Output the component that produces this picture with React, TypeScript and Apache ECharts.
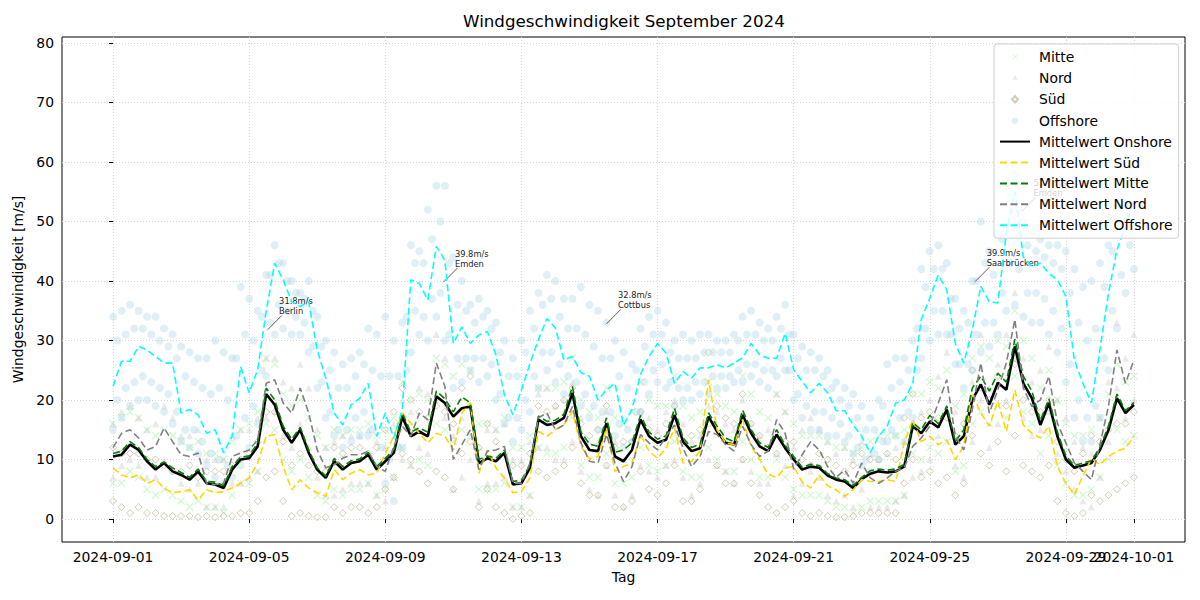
import React, { useEffect, useRef } from "react";
import * as echarts from "echarts";

// Sampling step of all series below, in hours after 2024-09-01 00:00
const STEP_HOURS = 6;

const xTickHours = [0, 96, 192, 288, 384, 480, 576, 672, 720];
const xTickLabels = [
  "2024-09-01", "2024-09-05", "2024-09-09", "2024-09-13", "2024-09-17",
  "2024-09-21", "2024-09-25", "2024-09-29", "2024-10-01",
];
const yTicks = [0, 10, 20, 30, 40, 50, 60, 70, 80];

// Regional means [m/s], one value every 6 h
const meanOnshore = [
  10.5, 10.8, 12.5, 11.6, 9.7, 8.3, 9.4, 8.0, 7.4, 6.6,
  8.0, 6.0, 5.8, 5.2, 8.3, 10.0, 10.2, 12.2, 21.0, 19.2,
  15.0, 12.8, 15.0, 11.1, 8.3, 6.9, 9.7, 8.3, 9.4, 9.7,
  10.8, 8.3, 9.7, 11.1, 17.2, 13.9, 14.7, 13.9, 20.6, 19.5,
  17.2, 18.6, 18.9, 9.4, 10.2, 9.7, 11.1, 5.8, 6.0, 8.6,
  16.7, 15.8, 16.1, 17.0, 21.2, 13.9, 11.6, 11.4, 16.1, 10.5,
  9.7, 11.6, 16.7, 13.9, 12.8, 13.3, 17.5, 13.0, 11.4, 11.9,
  17.2, 14.7, 12.8, 12.5, 17.5, 14.4, 12.2, 11.4, 14.2, 11.9,
  10.0, 8.3, 8.8, 8.6, 7.3, 6.6, 6.3, 5.2, 6.7, 7.6,
  8.0, 7.8, 8.0, 8.8, 15.6, 14.4, 16.4, 15.4, 18.4, 12.5,
  13.9, 20.0, 22.6, 19.2, 22.9, 21.7, 29.0, 22.8, 20.3, 15.8,
  19.5, 13.9, 10.0, 8.6, 9.0, 9.4, 11.6, 14.9, 20.3, 17.8, 19.2,
];
const meanSued = [
  8.6, 7.4, 6.9, 7.4, 6.0, 6.6, 5.2, 4.4, 4.6, 4.9,
  3.2, 4.9, 4.4, 4.6, 5.2, 6.0, 6.9, 9.4, 13.9, 14.2,
  8.8, 4.9, 6.6, 5.2, 4.4, 3.8, 8.3, 6.6, 7.7, 8.3,
  7.4, 7.7, 11.0, 13.9, 17.8, 16.1, 14.4, 12.8, 14.4, 13.9,
  11.6, 17.8, 19.5, 7.7, 11.6, 8.6, 6.9, 4.4, 4.6, 6.9,
  14.7, 13.9, 15.0, 15.8, 18.1, 12.2, 10.1, 10.5, 15.3, 8.0,
  8.8, 9.4, 14.2, 11.4, 10.2, 11.9, 15.3, 9.4, 9.7, 11.4,
  23.4, 15.0, 12.8, 12.5, 16.7, 12.2, 10.0, 7.5, 7.0, 8.6,
  8.8, 6.2, 5.2, 7.4, 5.6, 4.9, 3.8, 4.9, 6.6, 6.3,
  6.3, 6.6, 6.3, 12.8, 16.7, 13.0, 13.9, 12.5, 13.3, 10.0,
  12.2, 21.2, 17.8, 15.6, 19.8, 14.7, 21.7, 15.8, 14.4, 13.6,
  15.6, 8.8, 6.0, 4.1, 7.2, 10.2, 9.1, 10.5, 11.4, 11.9, 13.9,
];
const meanMitte = [
  11.0, 11.4, 13.0, 12.0, 10.0, 8.8, 9.6, 8.6, 7.8, 7.0,
  8.4, 6.3, 6.2, 5.6, 8.8, 10.4, 10.6, 12.8, 22.0, 20.0,
  15.6, 13.4, 15.4, 11.6, 8.6, 7.2, 10.2, 8.8, 9.8, 10.1,
  11.2, 8.8, 10.2, 11.6, 17.8, 14.6, 15.3, 14.6, 21.5, 20.2,
  18.0, 20.5, 19.5, 10.0, 10.6, 10.2, 11.6, 6.3, 6.5, 9.0,
  17.3, 16.4, 16.6, 17.6, 22.3, 14.6, 12.6, 12.2, 17.0, 11.2,
  11.6, 12.8, 17.4, 14.6, 13.4, 14.0, 18.6, 13.6, 12.0, 12.6,
  17.8, 15.6, 13.6, 13.0, 18.3, 15.0, 12.8, 12.0, 15.0, 12.4,
  10.5, 8.7, 9.2, 9.0, 7.6, 6.9, 6.6, 5.6, 7.0, 8.1,
  8.4, 8.2, 8.4, 9.2, 16.2, 15.0, 17.4, 16.0, 19.0, 13.0,
  15.0, 22.0, 24.0, 21.5, 24.5, 23.0, 30.2, 24.0, 21.5, 16.5,
  20.2, 14.6, 10.6, 9.0, 9.4, 9.8, 12.0, 15.6, 21.0, 18.2, 19.6,
];
const meanNord = [
  12.0, 14.4, 15.0, 13.6, 11.6, 12.2, 15.3, 13.0, 10.8, 10.5,
  11.1, 6.0, 5.8, 6.0, 10.5, 11.1, 11.6, 13.3, 22.8, 23.4,
  19.5, 17.8, 22.0, 17.8, 11.6, 8.6, 9.1, 10.2, 10.8, 10.8,
  11.4, 8.8, 8.0, 12.2, 15.6, 13.9, 17.8, 16.7, 26.2, 22.3,
  10.0, 12.5, 15.0, 8.3, 11.4, 11.6, 12.2, 6.0, 6.0, 9.4,
  17.0, 17.8, 15.0, 15.8, 18.9, 12.8, 9.7, 9.4, 14.2, 9.4,
  6.3, 8.8, 14.2, 12.8, 11.6, 13.9, 15.8, 11.9, 8.8, 10.5,
  14.7, 14.2, 12.5, 11.4, 15.6, 12.5, 10.5, 11.4, 16.7, 14.4,
  8.4, 10.8, 13.0, 11.6, 8.8, 7.0, 8.2, 6.0, 9.4, 6.9,
  6.0, 6.9, 8.0, 8.6, 12.2, 13.6, 15.6, 19.5, 23.4, 13.9,
  11.6, 18.4, 26.2, 17.8, 21.7, 26.2, 33.5, 22.0, 18.9, 20.0,
  24.0, 16.1, 12.8, 9.4, 8.0, 6.6, 12.5, 18.9, 28.4, 22.8, 26.7,
];
const meanOffshore = [
  22.3, 26.5, 26.5, 29.0, 28.4, 27.3, 26.2, 26.2, 17.8, 18.4,
  17.5, 14.4, 15.0, 11.1, 13.9, 25.6, 21.2, 25.1, 34.9, 43.0,
  40.2, 36.5, 35.7, 36.5, 28.4, 23.7, 17.8, 15.8, 19.2, 20.3,
  22.8, 13.9, 17.8, 13.6, 18.4, 40.2, 39.6, 36.8, 45.8, 43.5,
  29.5, 32.3, 29.5, 30.9, 31.5, 27.6, 20.9, 17.5, 21.7, 26.1,
  30.1, 33.7, 32.1, 26.7, 27.3, 24.6, 24.0, 20.0, 21.7, 22.8,
  15.8, 18.4, 24.3, 27.3, 29.5, 27.9, 22.8, 24.8, 23.7, 25.4,
  25.4, 25.9, 25.4, 26.2, 27.1, 29.5, 27.6, 27.0, 27.0, 31.2,
  25.1, 23.1, 21.2, 22.8, 21.2, 18.2, 18.2, 15.8, 13.9, 11.1,
  13.9, 15.6, 19.5, 20.0, 22.8, 33.5, 37.1, 41.0, 38.5, 29.5,
  26.2, 31.8, 39.1, 36.5, 36.3, 48.0, 55.0, 44.0, 42.4, 43.0,
  41.3, 40.2, 37.4, 26.7, 22.8, 19.5, 28.4, 37.9, 45.2, 49.1, 53.6,
];

// Station readings every 6 h: upper and lower edge of each region's spread
const offshoreHigh = [
  34, 35, 36, 35, 34, 34, 32, 31, 29, 28, 27, 27, 30, 28, 27, 39, 37, 35, 41, 46,
  43, 40, 38, 40, 34, 30, 28, 26, 27, 28, 32, 31, 34, 30, 33, 46, 45, 52, 56, 56,
  44, 40, 36, 37, 35, 33, 30, 27, 30, 35, 38, 41, 40, 37, 37, 39, 36, 35, 33, 30,
  28, 26, 32, 34, 35, 33, 30, 31, 30, 31, 31, 30, 30, 31, 34, 35, 33, 32, 34, 36,
  31, 29, 28, 27, 25, 23, 22, 21, 19, 17, 20, 26, 27, 27, 30, 42, 45, 46, 43, 37,
  35, 40, 50, 45, 48, 56, 58, 50, 48, 47, 46, 46, 45, 42, 39, 40, 43, 46, 50, 55, 56,
];
const offshoreLow = [
  15, 17, 19, 20, 20, 19, 18, 16, 13, 12, 11, 9, 7, 6, 7, 9, 12, 16, 24, 31,
  32, 31, 31, 28, 22, 17, 14, 12, 13, 14, 14, 9, 6, 3, 12, 28, 31, 30, 34, 30,
  22, 23, 25, 23, 24, 20, 16, 13, 15, 18, 22, 25, 23, 21, 20, 19, 17, 15, 15, 14,
  12, 13, 18, 21, 23, 22, 19, 20, 20, 21, 21, 22, 22, 23, 23, 24, 23, 22, 24, 25,
  20, 17, 15, 15, 14, 14, 13, 11, 9, 8, 10, 13, 14, 13, 17, 27, 30, 31, 31, 26,
  22, 25, 28, 29, 31, 35, 36, 34, 33, 33, 31, 28, 23, 17, 13, 13, 17, 25, 32, 38, 42,
];
// Offshore readings inside the spread, taken 3 h after each 6 h step
const offshoreInnerHigh = [
  30, 31, 32, 32, 31, 30, 29, 27, 24, 23, 22, 21, 22, 20, 27, 31, 30, 34, 41, 43,
  40, 38, 37, 35, 29, 25, 22, 22, 24, 26, 25, 24, 24, 24, 34, 43, 43, 47, 50, 43,
  36, 35, 33, 34, 32, 28, 24, 24, 28, 32, 36, 37, 34, 32, 32, 31, 29, 27, 27, 24,
  22, 25, 29, 31, 31, 28, 27, 27, 27, 28, 28, 28, 28, 30, 31, 31, 30, 30, 32, 31,
  27, 25, 25, 24, 22, 20, 19, 17, 15, 15, 19, 22, 23, 25, 32, 39, 42, 42, 37, 32,
  33, 40, 43, 41, 47, 54, 52, 46, 45, 44, 43, 42, 38, 33, 30, 32, 39, 45, 50, 53,
];
const offshoreInnerLow = [
  20, 22, 23, 24, 23, 22, 21, 18, 15, 15, 13, 11, 10, 9, 14, 17, 19, 25, 33, 36,
  35, 34, 33, 29, 23, 18, 15, 15, 17, 18, 15, 12, 10, 12, 25, 35, 34, 37, 38, 31,
  27, 27, 27, 27, 26, 21, 17, 17, 20, 24, 28, 28, 26, 24, 23, 21, 19, 18, 18, 16,
  15, 18, 23, 25, 26, 23, 22, 22, 23, 23, 24, 24, 24, 25, 26, 26, 25, 25, 27, 25,
  21, 19, 18, 18, 17, 16, 14, 12, 10, 11, 13, 15, 17, 18, 25, 32, 35, 35, 31, 26,
  26, 31, 33, 33, 38, 43, 42, 38, 38, 37, 35, 32, 26, 20, 17, 19, 27, 35, 41, 46,
];
const mitteHigh = [
  16, 17, 18, 17, 15, 14, 15, 14, 13, 12, 13, 11, 11, 10, 13, 15, 16, 18, 27, 26,
  21, 19, 20, 17, 14, 12, 15, 14, 15, 15, 16, 14, 15, 17, 23, 20, 21, 20, 27, 26,
  24, 26, 25, 16, 16, 15, 17, 12, 12, 14, 22, 22, 22, 23, 27, 20, 18, 17, 22, 17,
  16, 18, 23, 20, 19, 19, 24, 19, 17, 18, 23, 21, 19, 18, 24, 21, 18, 17, 21, 18,
  16, 14, 14, 14, 13, 12, 12, 11, 12, 13, 14, 14, 14, 15, 21, 21, 23, 22, 25, 19,
  21, 27, 29, 27, 30, 29, 35, 30, 27, 22, 25, 20, 16, 14, 14, 15, 17, 21, 26, 23, 24,
];
const mitteLow = [
  6, 6, 8, 7, 5, 4, 5, 4, 3, 2, 3, 2, 2, 1, 4, 6, 6, 8, 16, 15,
  10, 8, 10, 7, 4, 3, 5, 4, 5, 5, 6, 4, 5, 7, 12, 9, 10, 9, 16, 15,
  13, 15, 14, 5, 5, 5, 6, 2, 2, 4, 12, 11, 11, 12, 17, 9, 7, 7, 11, 6,
  6, 7, 12, 9, 8, 9, 13, 8, 7, 7, 12, 10, 8, 8, 13, 10, 7, 7, 10, 7,
  5, 4, 4, 4, 3, 2, 2, 1, 2, 3, 3, 3, 3, 4, 11, 10, 12, 11, 13, 8,
  9, 16, 18, 16, 19, 17, 24, 18, 16, 11, 14, 9, 6, 4, 4, 5, 7, 10, 15, 13, 14,
];
const nordHigh = [
  16, 18, 19, 17, 15, 16, 19, 17, 14, 14, 15, 10, 10, 10, 14, 15, 15, 17, 27, 27,
  23, 22, 26, 22, 15, 12, 13, 14, 14, 14, 15, 13, 12, 16, 20, 18, 22, 21, 31, 27,
  14, 17, 19, 12, 15, 15, 16, 10, 10, 13, 21, 22, 19, 20, 23, 17, 13, 13, 18, 13,
  10, 13, 18, 17, 15, 18, 20, 16, 13, 14, 19, 18, 16, 15, 20, 16, 14, 15, 21, 18,
  12, 15, 17, 15, 13, 11, 12, 10, 13, 11, 10, 11, 12, 13, 16, 18, 20, 24, 28, 18,
  16, 23, 31, 22, 26, 31, 38, 27, 23, 25, 29, 20, 17, 13, 12, 11, 17, 23, 33, 27, 31,
];
const nordLow = [
  7, 9, 10, 9, 7, 7, 10, 8, 6, 5, 6, 2, 2, 2, 6, 6, 7, 8, 17, 18,
  14, 12, 16, 12, 7, 4, 4, 5, 6, 6, 6, 4, 3, 7, 10, 9, 12, 11, 20, 17,
  5, 7, 10, 3, 6, 6, 7, 2, 2, 4, 12, 12, 10, 10, 13, 8, 5, 4, 9, 4,
  2, 4, 9, 8, 7, 9, 10, 7, 4, 6, 10, 9, 8, 6, 10, 8, 6, 6, 11, 9,
  4, 6, 8, 7, 4, 3, 4, 2, 5, 2, 2, 2, 3, 4, 7, 8, 10, 14, 18, 9,
  7, 13, 20, 12, 16, 20, 27, 17, 14, 15, 18, 11, 8, 5, 3, 2, 7, 13, 22, 17, 20,
];
const suedHigh = [
  12, 11, 11, 11, 10, 10, 9, 8, 8, 9, 7, 8, 8, 8, 9, 10, 11, 13, 18, 18,
  13, 9, 11, 9, 8, 8, 12, 11, 12, 12, 11, 12, 15, 18, 22, 20, 18, 17, 19, 18,
  16, 22, 24, 12, 16, 13, 11, 9, 9, 11, 19, 18, 19, 20, 22, 16, 14, 15, 19, 12,
  13, 13, 18, 15, 14, 16, 19, 13, 14, 15, 28, 19, 17, 16, 21, 16, 14, 12, 11, 13,
  13, 10, 9, 11, 10, 9, 8, 9, 11, 10, 10, 11, 10, 17, 21, 17, 18, 17, 17, 14,
  16, 25, 22, 20, 24, 19, 26, 20, 18, 18, 20, 13, 10, 8, 11, 14, 13, 15, 16, 16, 18,
];
const suedLow = [
  3, 2, 1, 2, 1, 1, 0.5, 0.5, 0.5, 0.5, 0.3, 0.5, 0.3, 0.5, 0.5, 1, 1, 3, 7, 8,
  3, 0.5, 1, 0.5, 0.3, 0.3, 2, 1, 2, 2, 1, 2, 5, 7, 11, 10, 8, 6, 8, 7,
  5, 11, 13, 2, 5, 2, 1, 0, 0.5, 1, 8, 7, 8, 9, 12, 6, 4, 4, 9, 2,
  2, 3, 8, 5, 4, 6, 9, 3, 3, 5, 16, 9, 6, 6, 10, 6, 4, 2, 1, 2,
  3, 1, 0.5, 1, 0.5, 0.3, 0.3, 0.5, 1, 1, 1, 1, 1, 6, 10, 7, 8, 6, 7, 4,
  6, 14, 11, 9, 13, 8, 14, 9, 8, 7, 9, 3, 1, 0.5, 1, 4, 3, 4, 5, 6, 7,
];

// Station maxima called out in the plot
const stationNames = ["Berlin", "Emden", "Cottbus", "Saarbrücken", "Emden"];
const stationSpeeds = [31.8, 39.8, 32.8, 39.9, 51.7];
const stationHours = [109, 233, 348, 608, 641];

const FONT = "DejaVu Sans, sans-serif";
const FS = 13.9;

const toPoints = (values: number[], offset = 0) =>
  values.map((v, i) => [i * STEP_HOURS + offset, v]);

const crossPath =
  "path://M0,1L1,0L5,4L9,0L10,1L6,5L10,9L9,10L5,6L1,10L0,9L4,5Z";

// Legend markers: the leading moves keep a 30x13 box so the marker stays small
const legendCircle = "path://M0,0M30,13M18.2,6.5A3.2,3.2,0,1,1,11.8,6.5A3.2,3.2,0,1,1,18.2,6.5Z";
const legendCross = "path://M0,0M30,13M12.4,4.3L12.9,3.8L15,5.9L17.1,3.8L17.6,4.3L15.5,6.4L17.6,8.5L17.1,9L15,6.9L12.9,9L12.4,8.5L14.5,6.4Z";
const legendTriangle = "path://M0,0M30,13M15,3.6L17.6,8.4L12.4,8.4Z";
const legendDiamond = "path://M0,0M30,13M15,3.3L17.9,6.5L15,9.7L12.1,6.5Z";

export default function App() {
  const ref = useRef<HTMLDivElement>(null);

  useEffect(() => {
    if (!ref.current) return;
    const chart = echarts.init(ref.current, undefined, { renderer: "svg" });

    const dash = [7, 3.5];

    const arrowLines = stationHours.map((h, i) => [
      { coord: [h + 10, stationSpeeds[i] + 2.4] },
      { coord: [h, stationSpeeds[i]] },
    ]);
    const arrowLabels = stationHours.map((h, i) => ({
      coord: [h, stationSpeeds[i]],
      name: stationNames[i],
      value: stationSpeeds[i],
    }));

    const hiddenMarker = { itemStyle: { opacity: 0 } };

    chart.setOption({
      animation: false,
      title: {
        text: "Windgeschwindigkeit September 2024",
        left: 458,
        top: 7,
        textStyle: { fontFamily: FONT, fontSize: 16.7, fontWeight: "normal", color: "#000" },
      },
      grid: {
        left: 62,
        right: 15,
        top: 37,
        bottom: 58,
        show: true,
        borderColor: "#000",
        borderWidth: 1,
        backgroundColor: "transparent",
      },
      legend: {
        left: 994,
        top: 44,
        orient: "vertical",
        itemWidth: 30,
        itemHeight: 13,
        itemGap: 6.9,
        padding: [6, 6, 6, 5],
        backgroundColor: "rgba(255,255,255,0.8)",
        borderColor: "#d0d0d0",
        borderWidth: 1,
        borderRadius: 3,
        textStyle: { fontFamily: FONT, fontSize: FS, fontWeight: "normal", color: "#000", padding: [0, 0, 0, 4] },
        data: [
          { name: "Mitte", icon: legendCross },
          { name: "Nord", icon: legendTriangle },
          { name: "Süd", icon: legendDiamond },
          { name: "Offshore", icon: legendCircle },
          { name: "Mittelwert Onshore", ...hiddenMarker },
          { name: "Mittelwert Süd", ...hiddenMarker },
          { name: "Mittelwert Mitte", ...hiddenMarker },
          { name: "Mittelwert Nord", ...hiddenMarker },
          { name: "Mittelwert Offshore", ...hiddenMarker },
        ],
      },
      xAxis: [
        {
          type: "value",
          min: -36,
          max: 756,
          name: "Tag",
          nameLocation: "middle",
          nameGap: 28,
          nameTextStyle: { fontFamily: FONT, fontSize: FS, fontWeight: "normal", color: "#000" },
          axisLine: { show: false },
          axisTick: {
            show: true,
            length: 4,
            customValues: xTickHours,
            lineStyle: { color: "#000" },
          },
          axisLabel: {
            customValues: xTickHours.slice(0, -1),
            hideOverlap: false,
            fontFamily: FONT,
            fontSize: FS,
            fontWeight: "normal",
            color: "#000",
            margin: 8,
            formatter: (v: number) => xTickLabels[xTickHours.indexOf(v)] ?? "",
          },
          splitLine: {
            show: true,
            lineStyle: { color: "#d5d5d5", type: [1, 2], width: 1 },
          },
        },
        {
          // carries the closing date label, which overlaps its neighbour
          type: "value",
          position: "bottom",
          min: -36,
          max: 756,
          axisLine: { show: false },
          axisTick: { show: false },
          splitLine: { show: false },
          axisLabel: {
            customValues: xTickHours.slice(-1),
            hideOverlap: false,
            fontFamily: FONT,
            fontSize: FS,
            fontWeight: "normal",
            color: "#000",
            margin: 8,
            formatter: (v: number) => xTickLabels[xTickHours.indexOf(v)] ?? "",
          },
        },
      ],
      yAxis: {
        type: "value",
        min: -3.87,
        max: 81,
        name: "Windgeschwindigkeit [m/s]",
        nameLocation: "middle",
        nameGap: 36,
        nameTextStyle: { fontFamily: FONT, fontSize: FS, fontWeight: "normal", color: "#000" },
        axisLine: { show: false },
        axisTick: {
          show: true,
          length: 4,
          customValues: yTicks,
          lineStyle: { color: "#000" },
        },
        axisLabel: {
          customValues: yTicks,
          fontFamily: FONT,
          fontSize: FS,
          fontWeight: "normal",
          color: "#000",
          margin: 8,
        },
        splitLine: {
          show: true,
          lineStyle: { color: "#d5d5d5", type: [1, 2], width: 1 },
        },
      },
      series: [
        {
          name: "Mitte",
          type: "scatter",
          symbol: crossPath,
          symbolSize: 8,
          itemStyle: { color: "rgba(144,238,144,0.55)" },
          data: toPoints(mitteHigh).concat(toPoints(mitteLow)),
        },
        {
          name: "Nord",
          type: "scatter",
          symbol: "triangle",
          symbolSize: 7,
          itemStyle: { color: "rgba(200,200,200,0.5)" },
          data: toPoints(nordHigh).concat(toPoints(nordLow)),
        },
        {
          name: "Süd",
          type: "scatter",
          symbol: "diamond",
          symbolSize: 7,
          itemStyle: {
            color: "rgba(250,250,225,0.35)",
            borderColor: "rgba(130,115,80,0.45)",
            borderWidth: 1,
          },
          data: toPoints(suedHigh).concat(toPoints(suedLow)),
        },
        {
          name: "Offshore",
          type: "scatter",
          symbol: "circle",
          symbolSize: 8,
          itemStyle: { color: "rgba(173,216,230,0.5)" },
          data: toPoints(offshoreHigh)
            .concat(toPoints(offshoreLow))
            .concat(toPoints(offshoreInnerHigh, 3))
            .concat(toPoints(offshoreInnerLow, 3)),
        },
        {
          name: "Mittelwert Onshore",
          type: "line",
          symbol: "none",
          lineStyle: { color: "#000", width: 2.6 },
          itemStyle: { color: "#000" },
          data: toPoints(meanOnshore),
        },
        {
          name: "Mittelwert Süd",
          type: "line",
          symbol: "none",
          lineStyle: { color: "#ffd700", width: 1.6, type: dash },
          itemStyle: { color: "#ffd700" },
          data: toPoints(meanSued),
        },
        {
          name: "Mittelwert Mitte",
          type: "line",
          symbol: "none",
          lineStyle: { color: "#008000", width: 1.6, type: dash },
          itemStyle: { color: "#008000" },
          data: toPoints(meanMitte),
        },
        {
          name: "Mittelwert Nord",
          type: "line",
          symbol: "none",
          lineStyle: { color: "#808080", width: 1.6, type: dash },
          itemStyle: { color: "#808080" },
          data: toPoints(meanNord),
        },
        {
          name: "Mittelwert Offshore",
          type: "line",
          symbol: "none",
          lineStyle: { color: "#00ffff", width: 1.6, type: dash },
          itemStyle: { color: "#00ffff" },
          data: toPoints(meanOffshore),
        },
        {
          name: "Stationsmaxima",
          type: "scatter",
          data: [],
          markLine: {
            silent: true,
            z: 3,
            symbol: ["none", "arrow"],
            symbolSize: [0, 6],
            lineStyle: { color: "#333", width: 0.8, type: "solid" },
            label: { show: false },
            data: arrowLines,
          },
          markPoint: {
            silent: true,
            z: 3,
            symbol: "rect",
            symbolSize: 1,
            itemStyle: { color: "rgba(0,0,0,0)" },
            label: {
              show: true,
              position: [12, -33],
              align: "left",
              verticalAlign: "top",
              fontFamily: FONT,
              fontSize: 8.3,
              lineHeight: 10,
              color: "#222",
              formatter: (p: any) => `${p.value}m/s\n${p.name}`,
            },
            data: arrowLabels,
          },
        },
      ],
    });

    return () => chart.dispose();
  }, []);

  return <div ref={ref} style={{ width: 1200, height: 600, margin: -8 }} />;
}
